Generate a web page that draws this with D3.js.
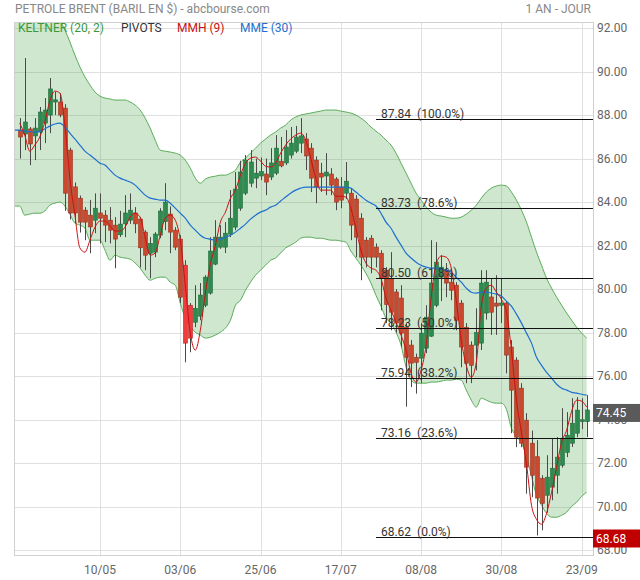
<!DOCTYPE html>
<html><head><meta charset="utf-8">
<script src="https://cdn.jsdelivr.net/npm/d3@7"></script>
<style>body{margin:0;background:#fff}svg{display:block;font-family:Roboto,"Open Sans",sans-serif}</style>
</head><body><svg id="c" width="640" height="580"></svg>
<script>
const opens=[87.31,87.13,87.36,87.04,87.22,87.63,88.00,88.60,88.60,88.32,
86.39,84.70,84.18,83.63,83.40,83.17,83.50,83.40,83.17,82.94,
82.50,83.00,83.17,83.50,83.22,82.62,81.65,81.70,82.48,83.10,
83.45,82.71,82.30,81.10,79.26,78.48,78.76,79.26,79.82,81.15,
81.93,81.93,82.53,82.85,83.72,84.41,84.87,85.10,85.20,85.29,
85.15,85.33,85.88,85.80,86.16,86.34,86.71,86.90,86.48,85.93,
85.33,85.20,85.29,85.06,84.69,84.41,84.41,84.14,83.26,82.25,
82.34,81.93,81.65,80.87,80.50,79.87,79.59,78.25,77.43,76.87,
76.83,77.29,77.84,79.26,80.55,80.87,80.32,80.18,79.36,78.25,
77.43,77.43,77.52,78.90,79.64,79.36,79.26,79.36,77.34,76.74,
75.45,73.98,72.92,72.30,71.31,70.53,70.90,71.45,71.91,72.50,
72.92,73.38,73.91,73.91];
const highs=[87.86,90.62,87.45,87.86,88.37,88.78,89.70,89.06,89.00,88.50,
86.50,84.90,84.30,83.77,84.10,84.40,84.40,83.63,83.77,83.31,
83.60,84.32,84.40,83.77,83.31,82.71,82.39,82.62,83.72,84.87,
83.80,82.85,82.48,81.33,79.36,80.18,80.28,80.64,82.39,83.17,
82.94,83.08,84.55,85.38,85.90,86.16,86.39,86.00,86.05,86.00,
86.48,87.08,86.99,87.31,87.45,87.50,87.86,87.17,86.71,86.10,
85.80,86.25,85.56,85.15,85.15,85.84,84.60,84.32,83.49,82.39,
82.48,82.10,81.79,81.01,81.70,80.00,80.18,78.44,77.66,77.04,
78.44,79.26,82.25,82.16,81.56,81.20,80.87,80.32,79.50,78.44,
77.60,79.12,80.87,80.87,80.50,80.64,80.50,79.45,77.66,76.87,
75.68,74.30,73.50,73.06,71.45,72.37,73.13,73.20,74.53,74.35,
74.99,75.04,74.99,75.13];
const lows=[86.00,86.39,85.70,85.93,86.39,86.71,87.17,88.00,87.90,83.60,
83.20,83.04,82.60,82.25,81.65,82.57,82.10,82.16,82.10,80.96,
82.40,82.39,83.00,82.57,81.00,80.87,80.50,81.47,82.34,82.71,
81.65,81.79,79.36,76.64,77.10,78.25,78.57,79.17,79.75,81.10,
81.85,81.66,82.39,82.71,83.60,84.32,84.69,84.64,85.01,84.32,
85.01,85.24,85.60,85.70,86.00,86.25,86.25,85.47,84.46,83.95,
84.47,84.32,84.32,83.63,83.72,84.14,82.25,81.47,80.41,81.00,
80.73,81.00,79.03,78.44,78.11,78.00,77.34,74.60,75.50,75.20,
75.68,77.06,77.80,79.17,79.45,79.63,79.49,78.11,76.41,75.68,
75.68,76.27,77.20,78.60,77.90,77.90,78.44,76.13,73.38,72.74,
72.74,70.60,70.44,68.68,68.92,69.73,70.30,70.60,71.80,72.28,
72.75,73.20,73.57,73.20];
const closes=[86.99,87.68,86.67,87.40,88.14,88.23,89.20,88.70,88.00,84.41,
83.50,83.50,83.08,83.08,82.86,83.72,83.26,82.94,82.71,82.30,
82.99,83.50,83.63,83.00,81.90,81.56,82.10,82.53,83.59,84.00,
82.62,81.93,79.63,77.52,77.75,79.12,79.73,80.55,81.75,82.39,
82.39,82.57,83.26,84.60,85.38,85.93,85.84,85.33,85.40,84.92,
85.80,86.48,85.66,86.53,86.71,86.99,87.04,86.12,85.10,84.69,
85.15,85.38,84.78,84.00,84.09,84.96,82.94,82.39,81.47,81.47,
81.47,81.47,80.51,79.30,78.94,78.44,77.98,76.87,76.60,76.64,
77.98,78.71,80.28,81.24,81.01,80.28,79.95,78.57,77.34,76.60,
76.50,78.00,80.28,80.32,78.94,79.22,79.36,76.97,75.36,73.20,
72.92,71.82,71.45,70.40,70.16,71.36,71.77,72.28,73.15,73.29,
73.84,74.44,74.00,74.45];
const highlighted=[33,34];
const keltnerUpper=[93.75,93.65,93.52,93.42,93.38,93.29,93.06,92.74,92.37,91.91,
91.36,90.76,90.21,89.75,89.38,89.06,88.87,88.78,88.74,88.69,
88.69,88.69,88.60,88.46,88.23,87.86,87.40,86.85,86.39,86.34,
86.30,86.25,86.16,85.93,85.56,85.10,84.87,85.06,85.15,85.19,
85.24,85.24,85.33,85.47,85.84,86.02,86.25,86.48,86.71,86.90,
87.08,87.22,87.40,87.54,87.77,87.91,88.00,88.05,88.09,88.14,
88.18,88.23,88.23,88.23,88.18,88.14,88.09,88.00,87.86,87.68,
87.45,87.26,87.08,86.85,86.62,86.25,85.79,85.33,84.87,84.41,
84.09,83.77,83.54,83.40,83.36,83.31,83.26,83.26,83.31,83.45,
83.63,83.86,84.18,84.46,84.64,84.74,84.78,84.74,84.46,84.09,
83.63,83.08,82.39,81.70,81.10,80.50,80.05,79.63,79.26,78.90,
78.57,78.25,77.98,77.75];
const keltnerLower=[83.82,83.40,83.45,83.49,83.49,83.59,83.86,83.95,84.00,83.82,
83.45,83.03,82.94,82.80,82.25,82.25,82.25,81.79,81.33,81.56,
81.47,81.43,81.38,81.20,80.97,80.64,80.41,80.50,80.55,80.55,
80.32,80.18,79.36,78.67,78.30,78.02,77.89,77.75,77.79,77.89,
78.02,78.21,78.57,79.26,79.49,79.95,80.32,80.64,80.87,81.10,
81.33,81.43,81.66,81.89,82.02,82.16,82.34,82.39,82.39,82.34,
82.34,82.30,82.25,82.25,82.21,82.16,81.75,81.43,81.10,80.73,
80.28,79.72,79.22,78.67,78.44,78.02,77.43,76.41,75.82,75.68,
75.68,75.68,75.73,75.73,75.77,75.82,75.82,75.86,75.82,75.36,
74.90,74.58,74.99,74.90,74.80,74.76,74.76,74.48,73.61,73.24,
72.92,72.32,71.40,70.53,70.07,69.70,69.52,69.52,69.61,69.75,
70.02,70.21,70.48,70.67];
const mme30=[87.31,87.26,87.24,87.22,87.26,87.36,87.49,87.59,87.63,87.45,
87.17,86.90,86.62,86.34,86.16,85.98,85.79,85.70,85.47,85.24,
85.10,85.01,84.92,84.78,84.55,84.32,84.18,84.14,84.09,84.09,
83.95,83.72,83.49,83.26,82.94,82.71,82.48,82.34,82.30,82.25,
82.30,82.39,82.48,82.62,82.80,82.99,83.22,83.40,83.54,83.63,
83.77,83.86,84.05,84.23,84.41,84.55,84.64,84.69,84.69,84.69,
84.69,84.69,84.69,84.69,84.69,84.69,84.64,84.46,84.27,84.09,
83.95,83.82,83.49,83.08,82.80,82.39,82.02,81.66,81.43,81.24,
81.10,81.01,80.97,80.97,80.92,80.87,80.78,80.55,80.32,80.05,
79.86,79.82,79.86,79.86,79.82,79.77,79.68,79.45,79.22,78.85,
78.44,77.98,77.52,76.87,76.50,76.18,75.91,75.63,75.45,75.36,
75.26,75.22,75.17,75.13];
const mmh9=[87.63,87.08,86.34,86.62,86.99,87.68,88.64,89.10,89.01,87.54,
85.10,83.40,81.89,81.70,82.25,82.85,83.13,83.13,82.90,82.67,
82.67,82.85,83.31,83.49,83.31,82.39,81.56,81.66,82.48,83.26,
83.40,83.17,82.25,80.18,77.98,77.20,78.11,79.82,81.15,82.02,
83.08,83.54,84.18,84.55,85.24,85.79,86.02,86.07,85.88,85.65,
85.61,85.79,86.25,86.62,86.90,87.08,87.17,86.85,86.02,85.10,
84.55,84.55,84.55,84.27,84.27,84.23,83.72,82.80,81.79,81.20,
80.97,80.87,80.50,79.59,79.03,78.48,77.89,77.20,76.14,75.73,
76.28,77.43,79.63,81.15,81.52,81.47,80.97,79.49,77.66,76.50,
75.95,76.64,79.22,80.05,80.18,79.86,79.54,78.94,77.20,74.90,
73.42,71.96,70.07,69.42,69.20,69.70,70.67,71.82,72.96,73.52,
74.39,74.90,74.85,74.58];
const fibValues=[87.84,83.73,80.50,78.23,75.94,73.16,68.62];
const fibLabels=["100.0%","78.6%","61.8%","50.0%","38.2%","23.6%","0.0%"];
const fibStart=71;
const yTicks=[68,70,72,74,76,78,80,82,84,86,88,90,92];
const xTickIndex=[16,32,48,64,80,96,112];
const xTickLabels=["10/05","03/06","25/06","17/07","08/08","30/08","23/09"];
const lastPrice=74.45, lowPrice=68.68;

const svg=d3.select("#c");
const L=14.5,R=593.5,T=22.5,B=555.5;
const n=closes.length;
const x=d3.scaleLinear().domain([0,n-1]).range([19.7,586.7]);
const y=d3.scaleLinear().domain([68,92]).range([550.3,28]);
const idx=d3.range(n);
// indicator lines continue to the left border (values held from the first sample)
const px=i=>i<0?L:x(i);
const idxExt=[-1].concat(idx);
const v=(arr,i)=>arr[Math.max(0,i)];

svg.append("defs").append("clipPath").attr("id","clip").append("rect")
  .attr("x",L).attr("y",T).attr("width",R-L).attr("height",B-T);

// grid
const g=svg.append("g");
g.selectAll(".hg").data(yTicks).join("line")
  .attr("x1",L).attr("x2",R).attr("y1",d=>Math.round(y(d))+0.5).attr("y2",d=>Math.round(y(d))+0.5)
  .attr("stroke","#e0e0e0");
g.selectAll(".vg").data(xTickIndex).join("line")
  .attr("y1",T).attr("y2",B).attr("x1",d=>Math.round(x(d))+0.5).attr("x2",d=>Math.round(x(d))+0.5)
  .attr("stroke","#e0e0e0");

const plot=svg.append("g").attr("clip-path","url(#clip)");
// keltner band
const area=d3.area().x(px).y0(i=>y(v(keltnerLower,i))).y1(i=>y(v(keltnerUpper,i))).curve(d3.curveMonotoneX);
plot.append("path").datum(idxExt).attr("d",area).attr("fill","rgba(60,160,60,0.25)");
const lineOf=arr=>d3.line().x(px).y(i=>y(v(arr,i))).curve(d3.curveMonotoneX);
plot.append("path").datum(idxExt).attr("d",lineOf(keltnerUpper)).attr("fill","none").attr("stroke","#5aac5a").attr("stroke-width",1);
plot.append("path").datum(idxExt).attr("d",lineOf(keltnerLower)).attr("fill","none").attr("stroke","#5aac5a").attr("stroke-width",1);

// candles
const cg=plot.append("g");
idx.forEach(i=>{
  const cx=Math.round(x(i));
  const up=closes[i]>=opens[i];
  cg.append("line").attr("x1",cx+0.5).attr("x2",cx+0.5).attr("y1",y(highs[i])).attr("y2",y(lows[i]))
    .attr("stroke","#4a4a4a").attr("stroke-width",1);
  const top=y(Math.max(opens[i],closes[i])), bot=y(Math.min(opens[i],closes[i]));
  let fill=up?"#2e8b50":"#c9482e", stroke=up?"#1f6b3a":"#9c3320";
  if(highlighted.includes(i)&&!up){fill="#f03c3c";stroke="#c02020";}
  cg.append("rect").attr("x",cx-1.5).attr("y",top).attr("width",4).attr("height",Math.max(1,bot-top))
    .attr("fill",fill).attr("stroke",stroke).attr("stroke-width",0.6);
});

// moving averages
plot.append("path").datum(idxExt).attr("d",lineOf(mme30)).attr("fill","none").attr("stroke","#1e6fd0").attr("stroke-width",1.2);
plot.append("path").datum(idx).attr("d",d3.line().x(i=>x(i)).y(i=>y(mmh9[i])).curve(d3.curveMonotoneX)).attr("fill","none").attr("stroke","#cc1010").attr("stroke-width",1);

// fibonacci
const fg=svg.append("g");
fibValues.forEach((val,k)=>{
  const yy=Math.round(y(val))+0.5;
  fg.append("line").attr("x1",x(fibStart)).attr("x2",R).attr("y1",yy).attr("y2",yy).attr("stroke","#111").attr("stroke-width",1);
  fg.append("text").attr("x",x(fibStart)+5).attr("y",yy-2).attr("font-size",12).attr("fill","#333")
    .style("white-space","pre").text(val.toFixed(2)+"  ("+fibLabels[k]+")");
});

// border
svg.append("rect").attr("x",L).attr("y",T).attr("width",R-L).attr("height",B-T).attr("fill","none").attr("stroke","#d0d0d0");

// y axis labels
svg.selectAll(".yl").data(yTicks).join("text").attr("x",597).attr("y",d=>y(d)+4).attr("font-size",12).attr("fill","#666").text(d=>d.toFixed(2));
// x axis labels
svg.selectAll(".xl").data(xTickIndex).join("text").attr("x",d=>x(d)).attr("y",574).attr("text-anchor","middle").attr("font-size",12).attr("fill","#666").text((d,k)=>xTickLabels[k]);

// price tags
[[lastPrice,"#5a5a5a"],[lowPrice,"#c00000"]].forEach(([p,c])=>{
  const yy=y(p)+3;
  svg.append("rect").attr("x",593).attr("y",yy-9).attr("width",47).attr("height",18).attr("fill",c);
  svg.append("text").attr("x",596).attr("y",yy+4.5).attr("font-size",12).attr("fill","#fff").text(p.toFixed(2));
});

// title & legend
svg.append("text").attr("x",15).attr("y",13).attr("font-size",12).attr("fill","#888").text("PETROLE BRENT (BARIL EN $) - abcbourse.com");
svg.append("text").attr("x",591).attr("y",13).attr("text-anchor","end").attr("font-size",12).attr("fill","#888").text("1 AN - JOUR");
const leg=[["KELTNER (20, 2)","#3a9a3a",18],["PIVOTS","#333",121],["MMH (9)","#c81010",177],["MME (30)","#1e6fd0",240]];
leg.forEach(([t,c,xx])=>svg.append("text").attr("x",xx).attr("y",32).attr("font-size",12).attr("fill",c).text(t));
</script></body></html>
